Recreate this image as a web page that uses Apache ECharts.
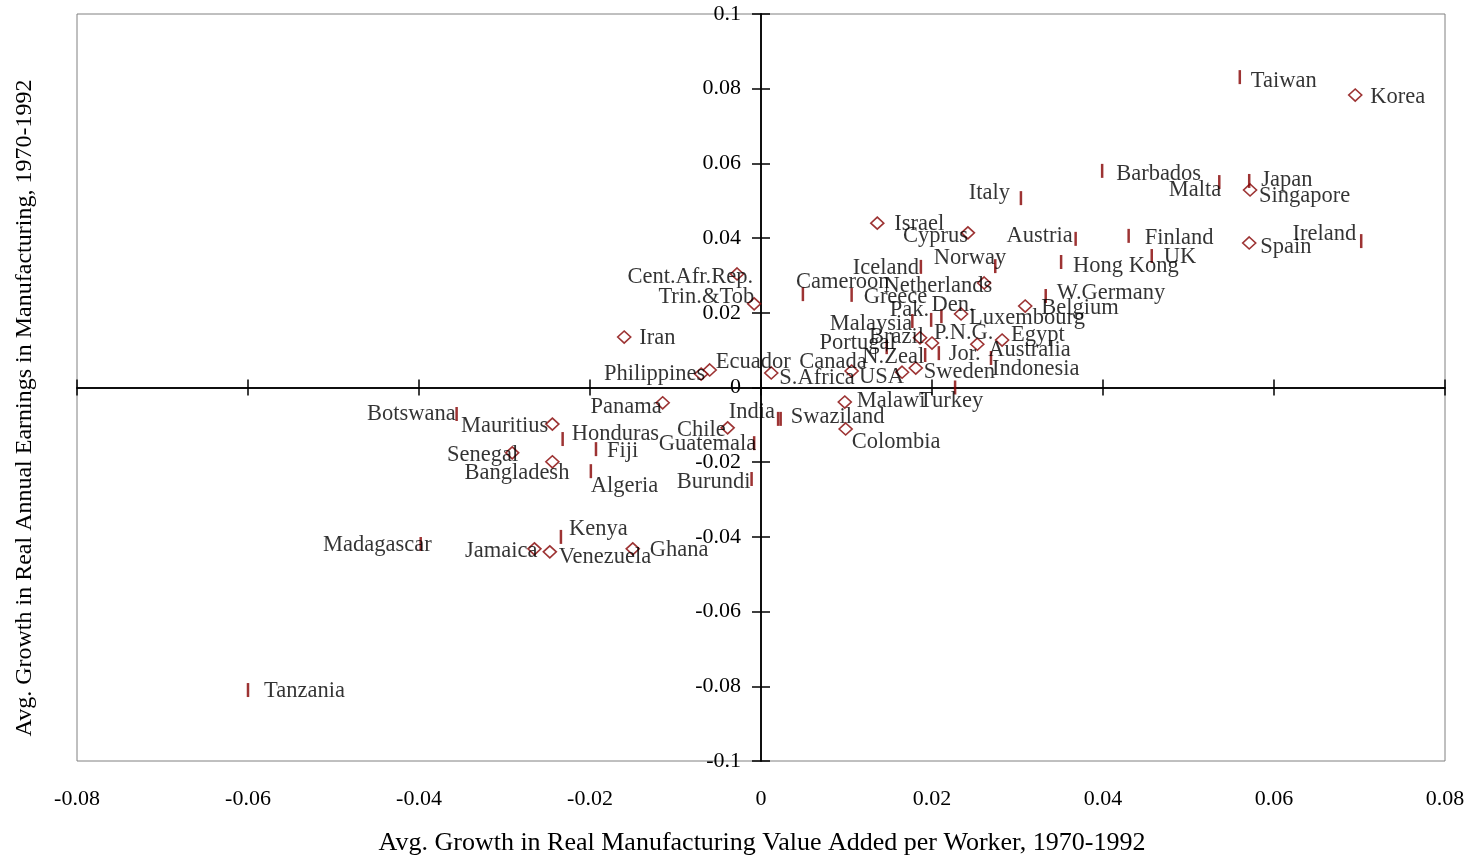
<!DOCTYPE html>
<html>
<head>
<meta charset="UTF-8">
<title>Earnings vs value added</title>
<script src="https://cdn.jsdelivr.net/npm/echarts@6/dist/echarts.min.js"></script>
<style>
  html, body { margin: 0; padding: 0; background: #fff; }
</style>
</head>
<body>
	<div id="chart" style="width:1473px;height:860px;"></div>
</body>
</html>
<script type="text/javascript">
// diamonds
var diamondNames = ['Korea', 'Singapore', 'Spain', 'Israel', 'Cyprus', 'Netherlands', 'Belgium', 'Luxembourg',
	'Brazil', 'P.N.G.', 'Egypt', 'Australia', 'Sweden', 'USA', 'Canada', 'S.Africa', 'Ecuador', 'Philippines',
	'Iran', 'Cent.Afr.Rep.', 'Trin.&Tob', 'Malawi', 'Colombia', 'Chile', 'Panama', 'Mauritius', 'Senegal',
	'Bangladesh', 'Jamaica', 'Venezuela', 'Ghana'];
var diamondX = [0.0695, 0.0572, 0.0571, 0.0136, 0.0242, 0.0261, 0.0309, 0.0234,
	0.0186, 0.0200, 0.0282, 0.0253, 0.0181, 0.0165, 0.0106, 0.0012, -0.0060, -0.0070,
	-0.0160, -0.0028, -0.0008, 0.0098, 0.0099, -0.0039, -0.0115, -0.0244, -0.0291,
	-0.0244, -0.0265, -0.0247, -0.0150];
var diamondY = [0.0783, 0.0529, 0.0387, 0.0440, 0.0414, 0.0280, 0.0218, 0.0197,
	0.0133, 0.0119, 0.0127, 0.0116, 0.0052, 0.0041, 0.0044, 0.0039, 0.0047, 0.0036,
	0.0135, 0.0304, 0.0224, -0.0039, -0.0111, -0.0108, -0.0041, -0.0098, -0.0175,
	-0.0199, -0.0432, -0.0440, -0.0432];

// vertical dashes
var dashNames = ['Taiwan', 'Barbados', 'Malta', 'Japan', 'Ireland', 'Finland', 'UK', 'Austria', 'Italy',
	'Hong Kong', 'Norway', 'Iceland', 'W.Germany', 'Cameroon', 'Greece', 'Malaysia', 'Pak.', 'Den.',
	'Jor.', 'Indonesia', 'Portugal', 'N.Zeal', 'Turkey', 'India', 'Swaziland', 'Guatemala', 'Burundi',
	'Fiji', 'Algeria', 'Honduras', 'Botswana', 'Madagascar', 'Kenya', 'Tanzania'];
var dashX = [0.0560, 0.0399, 0.0536, 0.0571, 0.0702, 0.0430, 0.0457, 0.0368, 0.0304,
	0.0351, 0.0274, 0.0187, 0.0333, 0.0049, 0.0106, 0.0177, 0.0199, 0.0211,
	0.0208, 0.0269, 0.0147, 0.0192, 0.0227, 0.0020, 0.0023, -0.0008, -0.0011,
	-0.0193, -0.0199, -0.0232, -0.0356, -0.0398, -0.0234, -0.0600];
var dashY = [0.0831, 0.0580, 0.0550, 0.0553, 0.0392, 0.0406, 0.0352, 0.0398, 0.0507,
	0.0336, 0.0325, 0.0323, 0.0245, 0.0250, 0.0248, 0.0178, 0.0181, 0.0191,
	0.0092, 0.0079, 0.0108, 0.0087, 0.0000, -0.0084, -0.0084, -0.0149, -0.0245,
	-0.0165, -0.0224, -0.0138, -0.0071, -0.0419, -0.0400, -0.0810];

var xTitle = 'Avg. Growth in Real Manufacturing Value Added per Worker, 1970-1992';
var yTitle = 'Avg. Growth in Real Annual Earnings in Manufacturing, 1970-1992';

// where each label sits: side (r = text starts there, l = text ends there), dx, dy in px
var labelAt = {
	'Taiwan': ['r', 11, 4], 'Korea': ['r', 15, 2], 'Barbados': ['r', 14, 3], 'Malta': ['l', 2, 8],
	'Japan': ['r', 12, -1], 'Singapore': ['r', 9, 6], 'Spain': ['r', 11, 4], 'Ireland': ['l', -5, -7],
	'Finland': ['r', 16, 2], 'UK': ['r', 12, 1], 'Austria': ['l', -3, -3], 'Italy': ['l', -11, -5],
	'Israel': ['r', 17, 1], 'Cyprus': ['l', 0, 3], 'Hong Kong': ['r', 12, 4], 'Norway': ['l', 11, -8],
	'Iceland': ['l', -2, 1], 'Netherlands': ['l', 8, 3], 'W.Germany': ['r', 11, -3], 'Belgium': ['r', 16, 2],
	'Cameroon': ['r', -7, -12], 'Greece': ['r', 12, 2], 'Malaysia': ['l', 0, 3], 'Pak.': ['l', -2, -10],
	'Den.': ['r', -10, -11], 'Luxembourg': ['r', 8, 4], 'Brazil': ['l', 4, -1], 'P.N.G.': ['r', 2, -10],
	'Jor.': ['r', 10, 1], 'Egypt': ['r', 9, -5], 'Australia': ['r', 11, 6], 'Indonesia': ['r', 1, 11],
	'Portugal': ['l', 9, -4], 'N.Zeal': ['l', -1, 2], 'Sweden': ['r', 8, 4], 'USA': ['l', 2, 5],
	'Canada': ['l', 15, -9], 'S.Africa': ['r', 8, 5], 'Ecuador': ['r', 6, -8], 'Philippines': ['l', 4, 0],
	'Iran': ['r', 15, 1], 'Cent.Afr.Rep.': ['l', 16, 3], 'Trin.&Tob': ['l', 0, -7], 'Turkey': ['r', -36, 14],
	'Malawi': ['r', 12, -1], 'India': ['l', -3, -7], 'Swaziland': ['r', 10, -2], 'Colombia': ['r', 6, 13],
	'Chile': ['l', -2, 2], 'Guatemala': ['l', 2, 1], 'Burundi': ['l', -1, 3], 'Panama': ['l', -1, 4],
	'Fiji': ['r', 11, 2], 'Algeria': ['r', 0, 15], 'Honduras': ['r', 9, -5], 'Mauritius': ['l', -4, 2],
	'Botswana': ['l', -1, 0], 'Senegal': ['l', 6, 2], 'Bangladesh': ['l', 17, 11], 'Madagascar': ['l', 11, 1],
	'Jamaica': ['l', 3, 2], 'Venezuela': ['r', 9, 5], 'Kenya': ['r', 8, -8], 'Ghana': ['r', 17, 1],
	'Tanzania': ['r', 16, 1]
};

var FONT = "'Liberation Serif', 'Times New Roman', serif";
var RED = '#850000';

function buildPoints(names, xs, ys) {
	var out = [];
	for (var i = 0; i < names.length; i++) {
		var p = labelAt[names[i]] || ['r', 10, 0];
		out.push({
			name: names[i],
			value: [xs[i], ys[i]],
			label: {
				align: p[0] == 'r' ? 'left' : 'right',
				offset: [p[1], p[2]]
			}
		});
	}
	return out;
}

function fmt(v) { return String(+v.toFixed(2)); }

var chart = echarts.init(document.getElementById('chart'));

var pointLabel = {
	show: true,
	position: 'inside',
	verticalAlign: 'middle',
	formatter: '{b}',
	color: '#000',
	fontFamily: FONT,
	fontSize: 22.5
};

// y axis sits at x = 0, which is the middle of the plot (1368 px wide)
var yShift = -684;

var option = {
	animation: false,
	backgroundColor: '#fff',
	grid: {
		left: 77, right: 28, top: 14, bottom: 99,
		show: true, borderColor: '#808080', borderWidth: 1, backgroundColor: 'transparent'
	},
	xAxis: [
		{
			type: 'value', min: -0.08, max: 0.08, interval: 0.02, position: 'bottom',
			axisLine: { onZero: true, onZeroAxisIndex: 0, lineStyle: { color: '#000', width: 1.5 } },
			axisTick: { inside: false, length: 8, lineStyle: { color: '#000', width: 1.5 } },
			axisLabel: { show: false }, splitLine: { show: false }
		},
		{
			type: 'value', min: -0.08, max: 0.08, interval: 0.02, position: 'bottom',
			axisLine: { onZero: true, onZeroAxisIndex: 0, lineStyle: { color: '#000', width: 1.5 } },
			axisTick: { inside: true, length: 8, lineStyle: { color: '#000', width: 1.5 } },
			axisLabel: { show: false }, splitLine: { show: false }
		},
		{
			type: 'value', min: -0.08, max: 0.08, interval: 0.02, position: 'bottom',
			axisLine: { show: false, onZero: false }, axisTick: { show: false }, splitLine: { show: false },
			axisLabel: { margin: 27, color: '#000', fontFamily: FONT, fontSize: 22, formatter: fmt }
		}
	],
	yAxis: [
		{
			type: 'value', min: -0.1, max: 0.1, interval: 0.02, position: 'left', offset: yShift,
			axisLine: { onZero: false, lineStyle: { color: '#000', width: 1.5 } },
			axisTick: { inside: false, length: 9, lineStyle: { color: '#000', width: 1.5 } },
			axisLabel: { margin: 20, color: '#000', fontFamily: FONT, fontSize: 22, formatter: fmt },
			splitLine: { show: false }
		},
		{
			type: 'value', min: -0.1, max: 0.1, interval: 0.02, position: 'left', offset: yShift,
			axisLine: { onZero: false, lineStyle: { color: '#000', width: 1.5 } },
			axisTick: { inside: true, length: 9, lineStyle: { color: '#000', width: 1.5 } },
			axisLabel: { show: false }, splitLine: { show: false }
		}
	],
	graphic: [
		{
			type: 'text', x: 762, y: 843,
			style: { text: xTitle, fill: '#000', font: '26px ' + FONT, textAlign: 'center', textVerticalAlign: 'middle' }
		},
		{
			type: 'text', x: 25, y: 408, rotation: Math.PI / 2,
			style: { text: yTitle, fill: '#000', font: '24px ' + FONT, textAlign: 'center', textVerticalAlign: 'middle' }
		}
	],
	series: [
		{
			name: 'diamond', type: 'scatter', xAxisIndex: 0, yAxisIndex: 0,
			symbol: 'diamond', symbolSize: [13, 12],
			itemStyle: { color: '#fff', borderColor: RED, borderWidth: 1.6 },
			label: pointLabel,
			emphasis: { disabled: true },
			data: buildPoints(diamondNames, diamondX, diamondY)
		},
		{
			name: 'dash', type: 'scatter', xAxisIndex: 0, yAxisIndex: 0,
			symbol: 'rect', symbolSize: [2.5, 14],
			itemStyle: { color: RED },
			label: pointLabel,
			emphasis: { disabled: true },
			data: buildPoints(dashNames, dashX, dashY)
		}
	]
};

chart.setOption(option);
</script>
